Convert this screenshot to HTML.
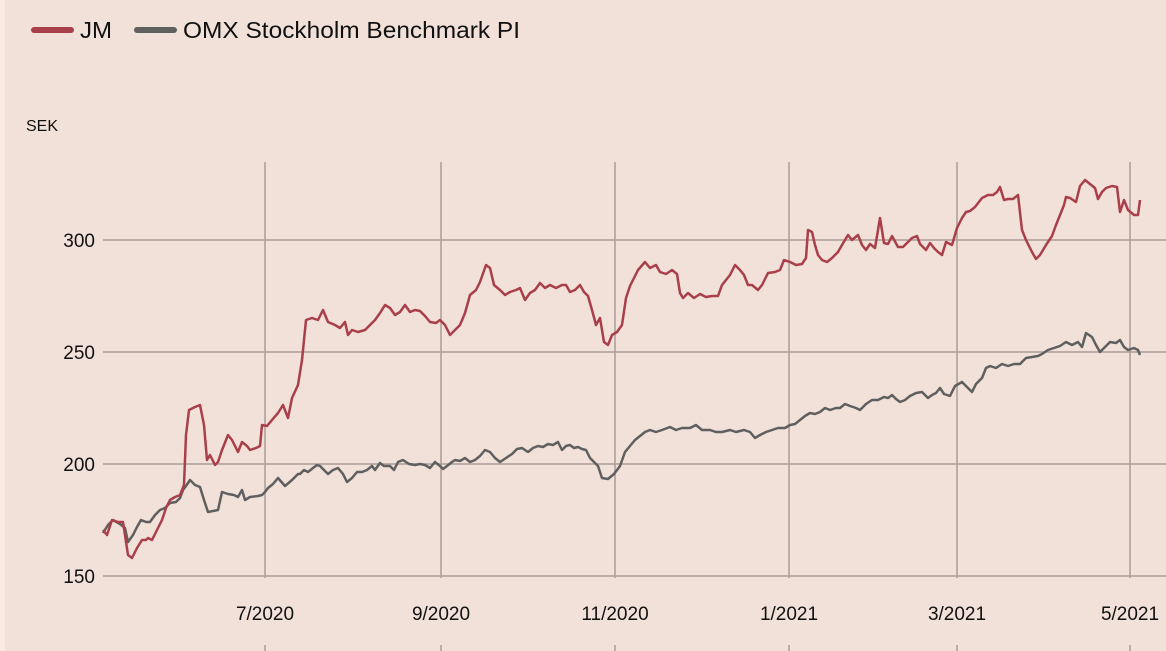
<!DOCTYPE html>
<html><head><meta charset="utf-8"><style>
html,body{margin:0;padding:0;background:#f2e1d9;}
body{width:1166px;height:651px;overflow:hidden;position:relative;font-family:"Liberation Sans",sans-serif;}
.strip{position:absolute;left:0;top:0;width:5px;height:651px;background:#fbeae3;}
</style></head><body>
<div class="strip"></div>
<svg width="1166" height="651" style="position:absolute;left:0;top:0">
<g stroke="#aa9c97" stroke-width="1.5">
<line x1="103" y1="240" x2="1166" y2="240"/>
<line x1="103" y1="352" x2="1166" y2="352"/>
<line x1="103" y1="464" x2="1166" y2="464"/>
<line x1="103" y1="576" x2="1166" y2="576"/>
<line x1="265" y1="162" x2="265" y2="578"/><line x1="441" y1="162" x2="441" y2="578"/>
<line x1="615" y1="162" x2="615" y2="578"/><line x1="789" y1="162" x2="789" y2="578"/>
<line x1="957" y1="162" x2="957" y2="578"/><line x1="1130" y1="162" x2="1130" y2="578"/>
<line x1="265" y1="645" x2="265" y2="651"/><line x1="441" y1="645" x2="441" y2="651"/>
<line x1="615" y1="645" x2="615" y2="651"/><line x1="789" y1="645" x2="789" y2="651"/>
<line x1="957" y1="645" x2="957" y2="651"/><line x1="1130" y1="645" x2="1130" y2="651"/>
</g>
<g font-size="19" fill="#111" font-family="Liberation Sans,sans-serif">
<text x="95" y="247" text-anchor="end">300</text>
<text x="95" y="359" text-anchor="end">250</text>
<text x="95" y="471" text-anchor="end">200</text>
<text x="95" y="583" text-anchor="end">150</text>
<g text-anchor="middle">
<text x="265" y="620">7/2020</text><text x="441" y="620">9/2020</text>
<text x="615" y="620">11/2020</text><text x="789" y="620">1/2021</text>
<text x="957" y="620">3/2021</text><text x="1130" y="620">5/2021</text></g>
<text x="26" y="131" font-size="16">SEK</text>
</g>
<line x1="34" y1="30" x2="71" y2="30" stroke="#a93f4a" stroke-width="6" stroke-linecap="round"/>
<text x="80" y="38" font-size="23" fill="#111" textLength="32" lengthAdjust="spacingAndGlyphs">JM</text>
<line x1="137" y1="30" x2="174" y2="30" stroke="#606060" stroke-width="6" stroke-linecap="round"/>
<text x="183" y="38" font-size="23" fill="#111" textLength="337" lengthAdjust="spacingAndGlyphs">OMX Stockholm Benchmark PI</text>
<polyline fill="none" stroke="#5f5f5f" stroke-width="2.5" stroke-linejoin="round" points="103,533 108,525 113,520 120,524 125,528 128,542 133,535 137,527 141,520 146,522 150,522 155,515 160,510 165,508 170,503 176,502 180,498 183,490 186,486 190,480 195,485 200,487 204,500 208,512 213,511 218,510 222,492 228,494 234,495 238,497 242,490 245,500 250,497 258,496 262,495 265,492 268,488 273,484 278,478 285,486 292,480 298,474 300,474 304,470 308,472 313,468 317,465 320,466 324,470 328,474 333,470 338,468 343,474 347,482 352,478 357,472 362,472 367,470 372,466 375,470 380,463 384,466 390,466 394,470 398,462 403,460 409,464 415,465 420,464 425,465 430,468 435,462 440,466 443,469 447,466 452,462 455,460 460,461 465,458 470,462 475,460 480,456 485,450 490,452 495,458 500,462 506,458 512,454 517,449 522,448 528,452 533,448 538,446 543,447 548,444 553,445 558,442 562,450 566,446 570,445 574,448 578,447 582,449 586,450 590,458 594,462 598,466 602,478 608,479 614,474 620,466 625,452 630,446 635,440 640,436 645,432 650,430 656,432 662,430 670,427 676,430 682,428 690,428 696,425 702,430 710,430 716,432 722,432 730,430 736,432 744,430 750,432 755,438 760,435 766,432 772,430 778,428 785,428 790,425 795,424 800,420 805,416 810,413 815,414 820,412 825,408 830,410 836,408 840,408 845,404 850,406 856,408 860,410 866,404 872,400 878,400 884,397 888,398 892,395 896,399 900,402 905,400 910,396 916,393 922,392 928,398 932,395 936,393 940,388 944,394 950,396 955,386 962,382 968,388 972,392 976,384 982,378 986,368 990,366 996,368 1002,364 1008,366 1014,364 1020,364 1026,358 1032,357 1038,356 1042,354 1048,350 1054,348 1060,346 1066,342 1072,345 1078,342 1082,347 1086,333 1092,337 1096,345 1100,352 1104,348 1110,342 1116,343 1120,340 1124,347 1128,350 1134,348 1138,350 1140,355"/>
<polyline fill="none" stroke="#a93f4a" stroke-width="2.5" stroke-linejoin="round" points="103,530 107,535 112,520 118,522 123,522 128,555 132,558 137,548 142,540 146,540 148,538 152,540 156,532 162,520 166,508 170,500 175,497 180,495 184,485 186,435 189,410 195,407 200,405 204,425 207,460 210,455 215,465 218,462 222,450 228,435 232,440 238,452 242,442 247,446 250,450 256,448 260,446 262,425 267,426 272,420 278,413 283,405 288,418 292,398 298,385 302,360 306,320 312,318 318,320 323,310 328,322 335,325 340,328 345,322 348,335 352,330 358,332 365,330 370,325 375,320 380,313 385,305 390,308 395,315 400,312 405,305 410,312 415,310 420,311 425,316 430,322 436,323 440,320 445,325 450,335 455,330 460,325 465,313 470,295 476,290 480,282 486,265 490,268 494,285 500,290 505,295 510,292 516,290 520,288 525,300 530,293 535,290 540,283 545,288 550,285 556,288 562,285 566,285 570,292 575,290 580,285 584,292 588,296 592,310 596,325 600,318 604,342 608,345 612,335 617,332 622,325 626,298 630,286 638,270 645,262 650,268 656,265 660,272 666,274 672,270 677,274 680,293 683,298 688,293 694,298 700,294 706,297 712,296 718,296 722,285 726,280 730,275 735,265 740,270 744,275 748,285 752,285 758,290 762,285 768,273 775,272 780,270 784,260 790,262 796,265 802,264 806,258 808,230 812,232 815,245 818,255 822,260 827,262 832,258 838,252 842,245 848,235 852,240 858,235 862,245 866,250 870,244 875,248 880,218 884,243 888,244 892,236 898,247 903,247 908,242 912,238 917,236 920,244 926,250 930,243 934,248 938,252 942,255 946,242 952,245 957,228 962,218 966,212 970,211 975,207 982,198 988,195 993,195 997,192 1000,187 1004,200 1008,199 1013,199 1018,195 1022,230 1026,240 1032,252 1036,259 1040,255 1046,245 1052,236 1056,225 1060,215 1064,205 1066,197 1070,198 1076,202 1080,186 1085,180 1090,184 1095,188 1098,199 1102,192 1106,188 1112,186 1117,187 1120,212 1124,200 1128,210 1134,215 1138,215 1140,200"/>
</svg>
</body></html>
